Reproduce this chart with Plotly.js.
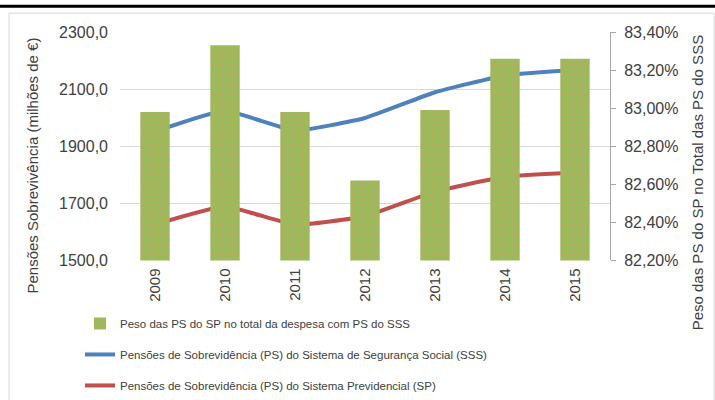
<!DOCTYPE html>
<html>
<head>
<meta charset="utf-8">
<script src="https://cdn.plot.ly/plotly-3.0.1.min.js"></script>
<style>html,body{margin:0;padding:0;background:#fff;}#chart{width:715px;height:400px;}</style>
</head>
<body>
<div id="chart"></div>
<script>
const years = ['2009','2010','2011','2012','2013','2014','2015'];
const pesoSP = [0.8298, 0.8333, 0.8298, 0.8262, 0.8299, 0.8326, 0.8326];
const psSSS = [1951, 2024, 1955, 1999, 2089, 2148, 2168];
const psSP = [1626, 1689, 1626, 1655, 1741, 1793, 1808];
const names = [
  'Peso das PS do SP no total da despesa com PS do SSS',
  'Pensões de Sobrevidência (PS) do Sistema de Segurança Social (SSS)',
  'Pensões de Sobrevidência (PS) do Sistema Previdencial (SP)'
];
const leftTitle = 'Pensões Sobrevivência (milhões de €)';
const rightTitle = 'Peso das PS do SP no Total das PS do SSS';
const FONT = 'Liberation Sans, Arial, sans-serif';
const TXT = '#404040';

const traces = [
  {type:'bar', x:years, y:pesoSP, name:names[0], yaxis:'y2', legendgroup:'a',
   marker:{color:'#9BBB59', line:{width:0},
           pattern:{shape:'.', fgcolor:'#d29a7c', bgcolor:'#9BBB59', size:5, solidity:0.1}},
   width:0.42},
  {type:'scatter', mode:'lines', x:years, y:psSSS, name:names[1], legendgroup:'b',
   line:{color:'#4F81BD', width:4, shape:'spline', smoothing:0.4}},
  {type:'scatter', mode:'lines', x:years, y:psSP, name:names[2], legendgroup:'c',
   line:{color:'#C0504D', width:4, shape:'spline', smoothing:0.4}}
];

// paper area: x 120..610 px, y 32..400 px; plot domain y 32..263 px
const PW = 490, PH = 368;
const px = v => (v - 120) / PW;
const py = v => (400 - v) / PH;
const layout = {
  width:715, height:400,
  margin:{l:120, r:105, t:32, b:0},
  paper_bgcolor:'#fff', plot_bgcolor:'#fff',
  font:{family:FONT, size:15, color:TXT},
  separators:',.',
  showlegend:true,
  legend:{x:px(80), y:py(312), xanchor:'left', yanchor:'top',
          traceorder:'grouped', tracegroupgap:12, bgcolor:'rgba(0,0,0,0)',
          font:{family:FONT, size:11.5, color:TXT}, itemwidth:30},
  xaxis:{type:'category', tickangle:-90, showgrid:false, showline:false, ticks:'',
         automargin:false, ticklabelstandoff:4, tickfont:{family:FONT, size:15, color:TXT}},
  yaxis:{domain:[py(263), 1], range:[1500,2300], tick0:1500, dtick:200, tickformat:'.1f',
         showgrid:true, gridcolor:'#d9d9d9', zeroline:false, showline:false, ticks:'',
         automargin:false, ticklabelstandoff:11, tickfont:{family:FONT, size:16, color:TXT}},
  yaxis2:{overlaying:'y', side:'right', range:[0.822,0.834], tick0:0.822, dtick:0.002, tickformat:'.2%',
          showgrid:false, zeroline:false, showline:true, linecolor:'#a6a6a6', linewidth:1,
          ticks:'outside', ticklen:5, tickcolor:'#a6a6a6', automargin:false, ticklabelstandoff:5,
          tickfont:{family:FONT, size:16, color:TXT}},
  annotations:[
    {text:leftTitle, xref:'paper', yref:'paper', x:px(33), y:py(167), textangle:-90,
     showarrow:false, xanchor:'center', yanchor:'middle', font:{family:FONT, size:15, color:TXT}},
    {text:rightTitle, xref:'paper', yref:'paper', x:px(697), y:py(185), textangle:-90,
     showarrow:false, xanchor:'center', yanchor:'middle', font:{family:FONT, size:15, color:TXT}}
  ],
  shapes:[
    {type:'line', xref:'paper', yref:'paper', x0:px(0), x1:px(715), y0:py(6), y1:py(6),
     line:{color:'#000', width:3}},
    {type:'rect', xref:'paper', yref:'paper', x0:px(9), x1:px(714), y0:py(13), y1:py(410),
     line:{color:'#d9d9d9', width:1}, fillcolor:'rgba(0,0,0,0)', layer:'below'}
  ]
};

Plotly.newPlot('chart', traces, layout, {displayModeBar:false, staticPlot:true});
</script>
</body>
</html>
